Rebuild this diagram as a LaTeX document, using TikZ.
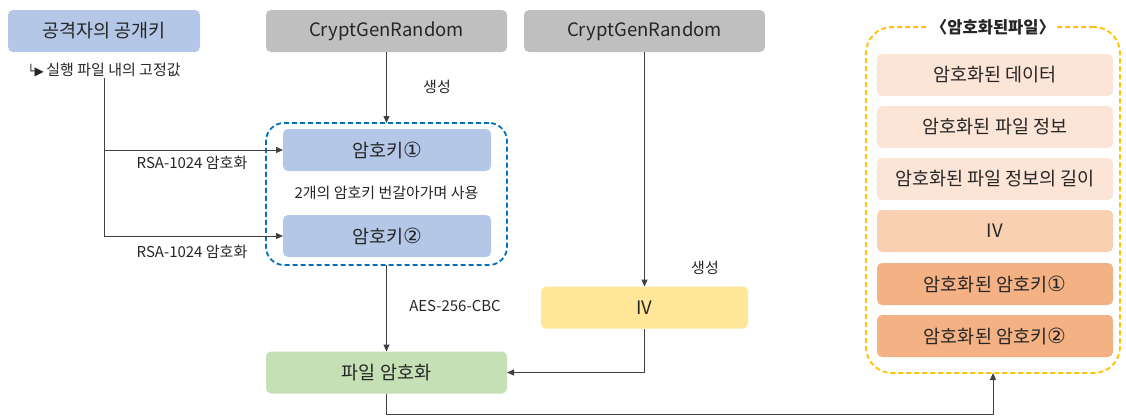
\documentclass[tikz,border=0pt]{standalone}
\usepackage{fontspec}
\setmainfont{Noto Sans CJK KR}
\newfontfamily\symfont{DejaVu Sans}
\usetikzlibrary{positioning,arrows.meta}
\definecolor{keyblue}{RGB}{180,199,231}
\definecolor{rnggray}{RGB}{191,191,191}
\definecolor{ivyellow}{RGB}{255,230,153}
\definecolor{encgreen}{RGB}{197,224,180}
\definecolor{peach}{RGB}{252,228,214}
\definecolor{peachmid}{RGB}{250,208,178}
\definecolor{peachdark}{RGB}{244,177,131}
\definecolor{dashblue}{RGB}{0,112,192}
\definecolor{dashyellow}{RGB}{255,192,0}
\definecolor{txt}{RGB}{38,38,38}
\definecolor{wire}{RGB}{64,64,64}
\newcommand{\circnum}[1]{{\symfont\fontsize{21}{21}\selectfont #1}}
\tikzset{%
  box/.style = {rectangle,rounded corners=5pt,outer sep=0pt,inner sep=0pt,
        minimum height=42pt,text=txt,font=\fontsize{18.5}{20}\selectfont},
  wide/.style = {box,minimum width=241pt},
  slot/.style = {box,minimum width=236pt},
  keybox/.style = {box,minimum width=208pt,fill=keyblue},
  lbl/.style = {text=txt,font=\fontsize{15}{17}\selectfont,inner sep=1pt},
  arrowline/.style = {-{Triangle[length=7pt,width=6pt]},draw=wire,line width=1pt},
  group/.style = {rectangle,draw,dashed,line width=1.8pt,dash pattern=on 5pt off 3pt,
        outer sep=0pt,inner sep=0pt}
}

\begin{document}
\begin{tikzpicture}[x=1pt,y=-1pt]
\useasboundingbox (0,0) rectangle (1126,418);
% left column
\node[wide,minimum width=192pt,fill=keyblue] (pubkey) at (104,31) {공격자의 공개키};
\node[lbl] (fixval) at (104,70) {{\symfont\fontsize{12}{14}\selectfont └▶}\,실행 파일 내의 고정값};
% random sources
\node[wide,fill=rnggray] (rng1) at (386.5,31) {CryptGenRandom};
\node[wide,fill=rnggray] (rng2) at (644.5,31) {CryptGenRandom};
% key pair
\node[group,draw=dashblue,rounded corners=18pt,minimum width=241pt,minimum height=142pt] (keygroup) at (386.5,194) {};
\node[keybox] (key1) at (387,150) {암호키\circnum{①}};
\node[keybox] (key2) at (387,236) {암호키\circnum{②}};
\node[lbl] (alt) at (386.5,193) {2개의 암호키 번갈아가며 사용};
% iv and encryption
\node[box,minimum width=207pt,fill=ivyellow] (iv) at (644.5,307.5) {IV};
\node[wide,fill=encgreen] (fileenc) at (386.5,372.5) {파일 암호화};
% output file
\node[group,draw=dashyellow,rounded corners=26pt,minimum width=254pt,minimum height=346pt] (outfile) at (993,200) {};
\node[fill=white,text=txt,inner xsep=2pt,inner ysep=1pt,font=\fontsize{16.5}{18}\selectfont\bfseries] (outtitle) at (outfile.north) {〈암호화된파일〉};
\node[slot,fill=peach] (s1) at (995,75) {암호화된 데이터};
\node[slot,fill=peach] (s2) at (995,127) {암호화된 파일 정보};
\node[slot,fill=peach] (s3) at (995,179) {암호화된 파일 정보의 길이};
\node[slot,fill=peachmid] (s4) at (995,231) {IV};
\node[slot,fill=peachdark] (s5) at (995,284) {암호화된 암호키\circnum{①}};
\node[slot,fill=peachdark] (s6) at (995,336) {암호화된 암호키\circnum{②}};
% connectors
\draw[arrowline] (fixval.south) |- (key1.west);
\draw[arrowline] (fixval.south) |- (key2.west);
\node[lbl] (rsa1) at (192,163) {RSA-1024 암호화};
\node[lbl] (rsa2) at (192,252) {RSA-1024 암호화};
\draw[arrowline] (rng1.south) -- (keygroup.north);
\node[lbl] (gen1) at (437,87) {생성};
\draw[arrowline] (rng2.south) -- (iv.north);
\node[lbl] (gen2) at (705,268) {생성};
\draw[arrowline] (keygroup.south) -- (fileenc.north);
\node[lbl] (aes) at (455,306) {AES-256-CBC};
\draw[arrowline] (iv.south) |- (fileenc.east);
\draw[arrowline] (fileenc.south) -- ++(0,21) -| (outfile.south);
\end{tikzpicture}
\end{document}
